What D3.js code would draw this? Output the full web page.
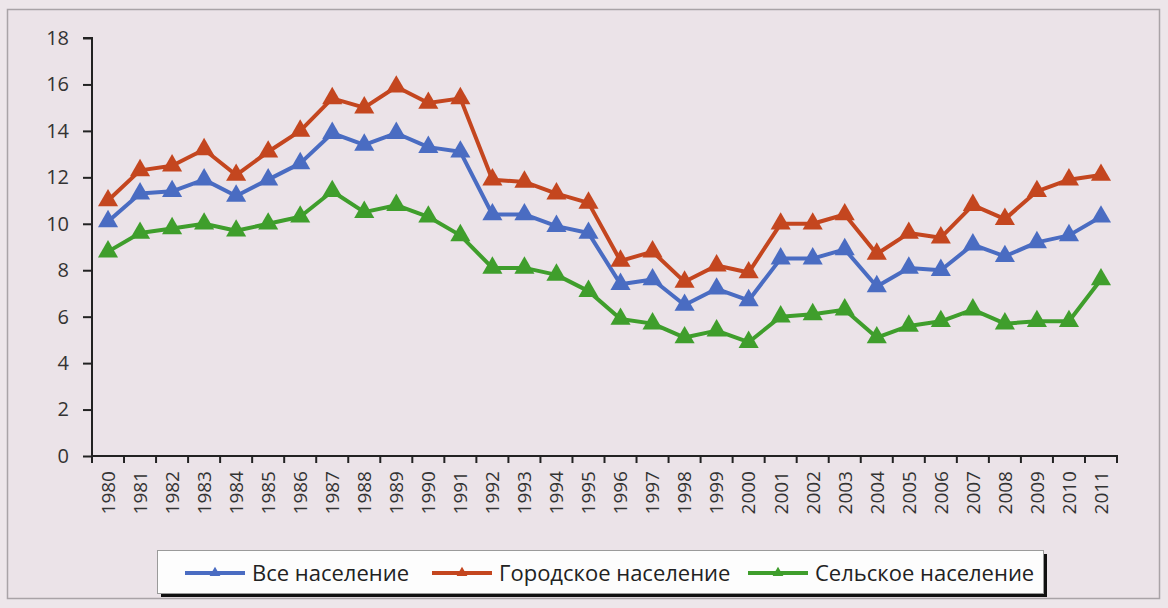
<!DOCTYPE html>
<html><head><meta charset="utf-8">
<script src="https://cdn.jsdelivr.net/npm/d3@7"></script>
<style>
html,body{margin:0;padding:0;background:#ede6ea;}
svg{display:block;}
</style></head>
<body>
<svg id="c" width="1168" height="608"></svg>
<script>
const years = ["1980","1981","1982","1983","1984","1985","1986","1987","1988","1989","1990","1991","1992","1993","1994","1995","1996","1997","1998","1999","2000","2001","2002","2003","2004","2005","2006","2007","2008","2009","2010","2011"];
const allPop = [10.1,11.3,11.4,11.9,11.2,11.9,12.6,13.9,13.4,13.9,13.3,13.1,10.4,10.4,9.9,9.6,7.4,7.6,6.5,7.2,6.7,8.5,8.5,8.9,7.3,8.1,8.0,9.1,8.6,9.2,9.5,10.3];
const urbanPop = [11.0,12.3,12.5,13.2,12.1,13.1,14.0,15.4,15.0,15.9,15.2,15.4,11.9,11.8,11.3,10.9,8.4,8.8,7.5,8.2,7.9,10.0,10.0,10.4,8.7,9.6,9.4,10.8,10.2,11.4,11.9,12.1];
const ruralPop = [8.8,9.6,9.8,10.0,9.7,10.0,10.3,11.4,10.5,10.8,10.3,9.5,8.1,8.1,7.8,7.1,5.9,5.7,5.1,5.4,4.9,6.0,6.1,6.3,5.1,5.6,5.8,6.3,5.7,5.8,5.8,7.6];
const seriesNames = ["Все население","Городское население","Сельское население"];
const yTicks = [0,2,4,6,8,10,12,14,16,18];

const colors = ["#4a6cc2","#c4461f","#3f9e2c"];
const seriesData = [allPop, urbanPop, ruralPop];

const svg = d3.select("#c");
const font = "'Open Sans', 'Liberation Sans', Arial, sans-serif";

// outer frame
svg.append("rect").attr("x",7.5).attr("y",9.5).attr("width",1152).attr("height",589)
  .attr("fill","#ebe3e8").attr("stroke","#a9a3a7").attr("stroke-width",1.5);

const pL = 92, pR = 1117, pT = 38, pB = 456;
const x = d3.scaleBand().domain(years).range([pL, pR]).padding(0);
const y = d3.scaleLinear().domain([0,18]).range([pB, pT]);

// y axis
const yAxis = svg.append("g").attr("transform",`translate(${pL},0)`)
  .call(d3.axisLeft(y).tickValues(yTicks).tickSize(9).tickPadding(14).tickFormat(d3.format("d")));
yAxis.select(".domain").attr("stroke","#222").attr("stroke-width",2).attr("d",`M-9,${pT}H0V${pB}`);
yAxis.selectAll(".tick line").attr("stroke","#222").attr("stroke-width",2);
yAxis.selectAll(".tick text").attr("font-family",font).attr("font-size",20).attr("fill","#333");

// x axis
const xAxis = svg.append("g").attr("transform",`translate(0,${pB})`)
  .call(d3.axisBottom(x).tickSize(0).tickPadding(0));
xAxis.select(".domain").attr("stroke","#222").attr("stroke-width",2).attr("d",`M${pL},0H${pR}V7`);
xAxis.selectAll(".tick text")
  .attr("font-family",font).attr("font-size",19).attr("fill","#333")
  .attr("transform","rotate(-90)").attr("text-anchor","end")
  .attr("x",-15).attr("y",0).attr("dy","0.36em");
// tick marks between categories
svg.append("g").selectAll("line").data(years).join("line")
  .attr("x1",d=>x(d)).attr("x2",d=>x(d))
  .attr("y1",pB).attr("y2",pB+7)
  .attr("stroke","#222").attr("stroke-width",2);

// lines & markers
const line = d3.line().x((d,i)=>x(years[i])+x.bandwidth()/2).y(d=>y(d));
const tri = d3.symbol().type(d3.symbolTriangle).size(175);
seriesData.forEach((vals,k)=>{
  const g = svg.append("g");
  g.append("path").datum(vals).attr("d",line).attr("fill","none")
    .attr("stroke",colors[k]).attr("stroke-width",4).attr("stroke-linejoin","round");
  g.selectAll("path.m").data(vals).join("path").attr("class","m")
    .attr("d",tri)
    .attr("transform",(d,i)=>`translate(${x(years[i])+x.bandwidth()/2},${y(d)})`)
    .attr("fill",colors[k]);
});

// legend
const lg = svg.append("g");
lg.append("rect").attr("x",161).attr("y",554).attr("width",886).attr("height",43).attr("fill","#111");
lg.append("rect").attr("x",157.5).attr("y",550.5).attr("width",886).attr("height",43)
  .attr("fill","#fdfdfd").attr("stroke","#9a9a9a").attr("stroke-width",1);
const legendX = [185, 432, 748];
seriesNames.forEach((n,k)=>{
  const gx = legendX[k], gy = 573;
  lg.append("line").attr("x1",gx).attr("x2",gx+60).attr("y1",gy).attr("y2",gy)
    .attr("stroke",colors[k]).attr("stroke-width",4);
  lg.append("path").attr("d",d3.symbol().type(d3.symbolTriangle).size(50))
    .attr("transform",`translate(${gx+30},${gy})`).attr("fill",colors[k]);
  lg.append("text").attr("x",gx+67).attr("y",gy).attr("dy","0.35em")
    .attr("font-family",font).attr("font-size",22).attr("fill","#222").text(n);
});
</script>
</body></html>
